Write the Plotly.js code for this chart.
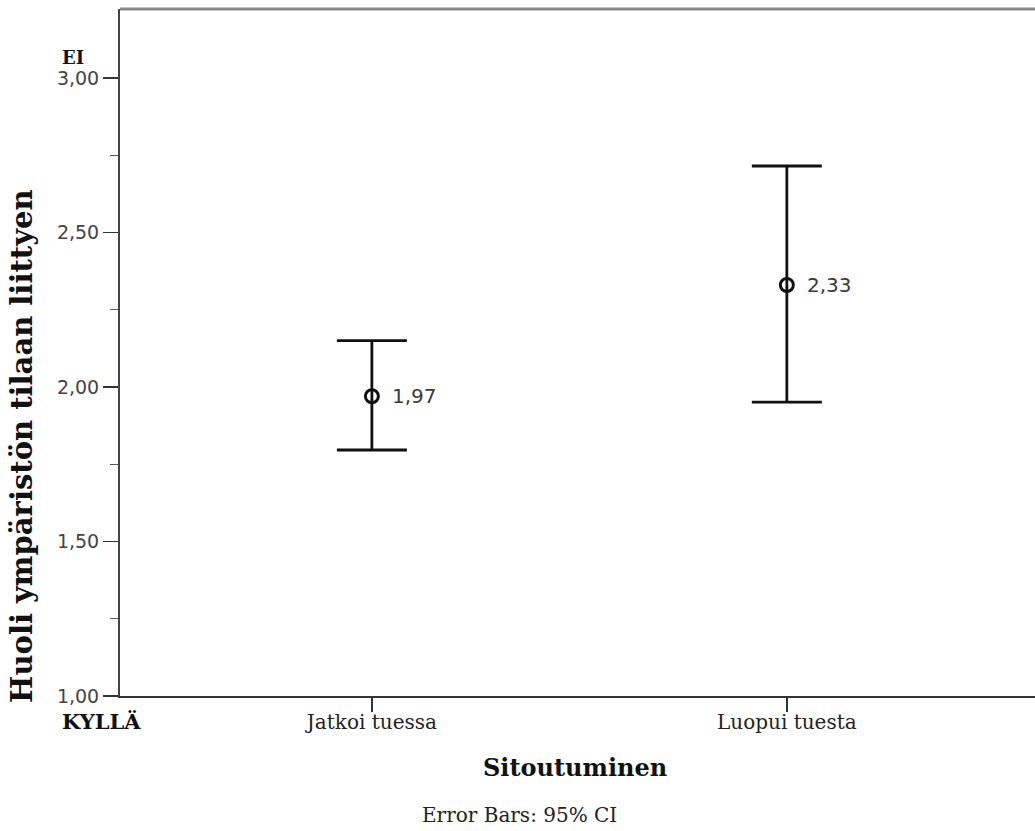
<!DOCTYPE html>
<html>
<head>
<meta charset="utf-8">
<script src="https://cdn.plot.ly/plotly-3.0.1.min.js"></script>
<style>html,body{margin:0;padding:0;background:#fff;}#chart{width:1035px;height:831px;}</style>
</head>
<body>
<div id="chart"></div>
<script>
// Group means of concern with 95% confidence limits
const groups = ["Jatkoi tuessa", "Luopui tuesta"];
const means = [1.97, 2.33];
const ciUpper = [2.15, 2.715];
const ciLower = [1.796, 1.951];
const yTicks = [1.0, 1.5, 2.0, 2.5, 3.0];
const yMinorTicks = [1.25, 1.75, 2.25, 2.75];

const fmt = v => v.toFixed(2).replace('.', ',');

const serif = "DejaVu Serif, Liberation Serif, serif";
const sans = "DejaVu Sans, Verdana, sans-serif";

const trace = {
  type: 'scatter',
  mode: 'markers',
  x: groups,
  y: means,
  marker: {symbol: 'circle-open', size: 13, color: '#111', line: {width: 3, color: '#111'}},
  error_y: {
    type: 'data',
    symmetric: false,
    array: means.map((m, i) => ciUpper[i] - m),
    arrayminus: means.map((m, i) => m - ciLower[i]),
    color: '#111',
    thickness: 2.8,
    width: 35
  },
  hoverinfo: 'skip',
  showlegend: false
};

// value labels beside each mean
const valueLabels = groups.map((g, i) => ({
  x: g, y: means[i], xref: 'x', yref: 'y',
  text: fmt(means[i]), showarrow: false,
  xanchor: 'left', yanchor: 'middle', xshift: 18,
  font: {family: sans, size: 20, color: '#3a3a3a'}
}));

const layout = {
  width: 1035, height: 831,
  margin: {l: 120, r: 0, t: 9, b: 135, pad: 0},
  paper_bgcolor: '#fff', plot_bgcolor: '#fff',
  separators: ',.',
  xaxis: {
    type: 'category',
    range: [-0.607, 1.598],
    showgrid: false, zeroline: false,
    showline: true, linecolor: '#333', linewidth: 2,
    ticks: 'outside', ticklen: 14, tickwidth: 1.5, tickcolor: '#333',
    ticklabelstandoff: -7,
    tickfont: {family: serif, size: 20, color: '#222'}
  },
  yaxis: {
    range: [1, 3.223],
    tickvals: yTicks,
    ticktext: yTicks.map(fmt),
    showgrid: false, zeroline: false,
    showline: true, linecolor: '#444', linewidth: 2,
    ticks: 'outside', ticklen: 15, tickwidth: 1.5, tickcolor: '#333',
    tickfont: {family: sans, size: 19, color: '#444'},
    minor: {ticks: 'outside', ticklen: 8, tickwidth: 1.2, tickcolor: '#555', tickvals: yMinorTicks}
  },
  shapes: [
    {type: 'line', xref: 'paper', yref: 'paper', x0: 0, x1: 1, y0: 1, y1: 1,
     line: {color: '#888', width: 3}}
  ],
  annotations: valueLabels.concat([
    {xref: 'paper', yref: 'paper', x: -0.1071, y: 0.364, xanchor: 'center', yanchor: 'middle', textangle: -90,
     text: 'Huoli ympäristön tilaan liittyen', showarrow: false,
     font: {family: serif, size: 29, color: '#111', weight: 'bold'}},
    {xref: 'paper', yref: 'paper', x: 0.497, y: -0.1048, xanchor: 'center', yanchor: 'middle',
     text: 'Sitoutuminen', showarrow: false,
     font: {family: serif, size: 24, color: '#111', weight: 'bold'}},
    {xref: 'paper', yref: 'paper', x: 0.437, y: -0.173, xanchor: 'center', yanchor: 'middle',
     text: 'Error Bars: 95% CI', showarrow: false,
     font: {family: serif, size: 20, color: '#222'}},
    {xref: 'paper', yref: 'paper', x: -0.0656, y: 0.930, xanchor: 'left', yanchor: 'middle',
     text: 'EI', showarrow: false,
     font: {family: serif, size: 18, color: '#111', weight: 'bold'}},
    {xref: 'paper', yref: 'paper', x: -0.0656, y: -0.0378, xanchor: 'left', yanchor: 'middle',
     text: 'KYLLÄ', showarrow: false,
     font: {family: serif, size: 21, color: '#111', weight: 'bold'}}
  ])
};

Plotly.newPlot('chart', [trace], layout, {displayModeBar: false, staticPlot: true});
</script>
</body>
</html>
